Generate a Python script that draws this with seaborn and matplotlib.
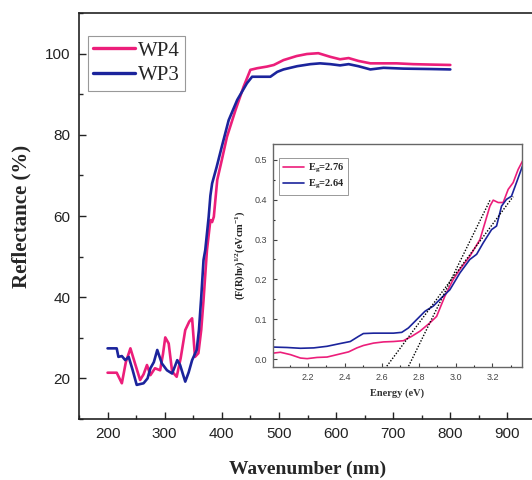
import numpy as np
import pandas as pd
import matplotlib
matplotlib.use("Agg")
import matplotlib.pyplot as plt
from matplotlib.ticker import MultipleLocator
import seaborn as sns

# ---------------- data ----------------
wp4_nm = [200, 216, 225, 232, 240, 248, 257, 263, 269, 275, 283, 292, 297, 301, 307, 313, 321,
          328, 336, 343, 348, 353, 359, 364, 368, 374, 380, 383, 386, 392, 400, 409, 424, 438,
          450, 462, 479, 491, 508, 531, 549, 569, 590, 607, 622, 639, 660, 683, 706, 735, 765, 800]
wp4_r = [21.4, 21.4, 18.8, 24.0, 27.4, 23.7, 19.6, 21.0, 23.3, 20.8, 22.5, 22.0, 26.0, 30.1, 28.6,
         21.7, 20.4, 25.0, 31.9, 34.0, 34.8, 25.3, 26.2, 32.0, 39.3, 51.6, 59.0, 58.5, 59.8, 68.9,
         73.8, 79.5, 86.1, 91.8, 96.0, 96.4, 96.8, 97.2, 98.4, 99.4, 99.9, 100.1, 99.2, 98.6, 98.9,
         98.2, 97.6, 97.6, 97.6, 97.4, 97.3, 97.2]

wp3_nm = [200, 216, 219, 225, 231, 237, 244, 251, 263, 270, 275, 281, 287, 295, 304, 313, 318,
          322, 327, 332, 336, 342, 348, 356, 360, 364, 368, 371, 377, 380, 383, 391, 400, 412,
          427, 444, 453, 473, 485, 497, 508, 532, 555, 572, 590, 607, 622, 639, 660, 683, 718,
          765, 800]
wp3_r = [27.4, 27.4, 25.3, 25.5, 24.5, 25.3, 22.0, 18.4, 18.8, 20.0, 22.5, 24.0, 27.0, 23.7, 22.0,
         21.2, 23.0, 24.5, 23.3, 21.0, 19.2, 21.5, 24.5, 27.0, 32.0, 40.1, 49.2, 51.6, 59.8, 65.0,
         68.0, 72.1, 77.1, 83.6, 88.6, 92.7, 94.3, 94.3, 94.3, 95.5, 96.1, 96.9, 97.4, 97.6, 97.4,
         97.1, 97.4, 96.9, 96.1, 96.5, 96.3, 96.2, 96.1]

series_names = ["WP4", "WP3"]
series_colors = ["#EC1E7A", "#1B249C"]

# inset: Tauc plot
wp4_e = [2.014, 2.05, 2.105, 2.159, 2.195, 2.249, 2.303, 2.357, 2.42, 2.465, 2.5, 2.555, 2.609,
         2.663, 2.717, 2.762, 2.807, 2.861, 2.897, 2.942, 2.987, 3.023, 3.077, 3.132, 3.186,
         3.204, 3.231, 3.258, 3.285, 3.312, 3.339, 3.366]
wp4_f = [0.015, 0.017, 0.011, 0.0025, 0.001, 0.004, 0.005, 0.011, 0.018, 0.028, 0.034, 0.040,
         0.043, 0.044, 0.046, 0.057, 0.070, 0.091, 0.107, 0.158, 0.200, 0.225, 0.258, 0.300,
         0.384, 0.399, 0.393, 0.393, 0.426, 0.443, 0.476, 0.500]
wp3_e = [2.014, 2.086, 2.159, 2.231, 2.303, 2.375, 2.429, 2.474, 2.5, 2.555, 2.609, 2.663, 2.708,
         2.744, 2.789, 2.834, 2.879, 2.924, 2.969, 3.023, 3.077, 3.114, 3.15, 3.195, 3.222,
         3.249, 3.276, 3.303, 3.33, 3.366]
wp3_f = [0.030, 0.029, 0.027, 0.028, 0.032, 0.039, 0.044, 0.057, 0.064, 0.065, 0.065, 0.065,
         0.067, 0.078, 0.099, 0.120, 0.133, 0.154, 0.174, 0.216, 0.250, 0.263, 0.292, 0.325,
         0.334, 0.384, 0.401, 0.409, 0.443, 0.489]
inset_labels = [r"E$_{\rm g}$=2.76", r"E$_{\rm g}$=2.64"]

# tangent (fit) lines
fit4_e = [2.745, 3.19]
fit4_f = [-0.018, 0.402]
fit3_e = [2.627, 3.312]
fit3_f = [-0.018, 0.408]

# ---------------- style ----------------
sns.set_theme(style="ticks")
plt.rcParams["font.family"] = ["Liberation Sans", "DejaVu Sans"]
plt.rcParams["mathtext.fontset"] = "custom"
plt.rcParams["mathtext.rm"] = "Liberation Serif:bold"
plt.rcParams["mathtext.bf"] = "Liberation Serif:bold"
plt.rcParams["mathtext.it"] = "Liberation Serif:bold:italic"

fig = plt.figure(figsize=(5.32, 4.8), dpi=100)
ax = fig.add_axes([79 / 532, (480 - 419) / 480, (536 - 79) / 532, (419 - 13) / 480])

df = pd.concat([
    pd.DataFrame({"nm": wp4_nm, "R": wp4_r, "s": series_names[0]}),
    pd.DataFrame({"nm": wp3_nm, "R": wp3_r, "s": series_names[1]}),
])
sns.lineplot(data=df, x="nm", y="R", hue="s", palette=dict(zip(series_names, series_colors)),
             linewidth=1.9, ax=ax, sort=False, estimator=None, legend=False)
for name, col in zip(series_names, series_colors):
    ax.plot([], [], color=col, lw=2.4, label=name)

ax.set_xlim(150, 950)
ax.set_ylim(10, 110)
ax.xaxis.set_major_locator(MultipleLocator(100))
ax.xaxis.set_minor_locator(MultipleLocator(50))
ax.yaxis.set_major_locator(MultipleLocator(20))
ax.yaxis.set_minor_locator(MultipleLocator(10))
ax.set_yticks([20, 40, 60, 80, 100])
ax.set_xticks([200, 300, 400, 500, 600, 700, 800, 900])
ax.tick_params(which="major", direction="in", length=5, width=1.0, labelsize=11,
               colors="#222222", top=False, right=False, pad=6)
ax.tick_params(which="minor", direction="in", length=3, width=1.0, top=False, right=False)
for sp in ax.spines.values():
    sp.set_linewidth(1.2)
    sp.set_color("#222222")
ax.set_xlabel("Wavenumber (nm)", family="Liberation Serif", weight="bold", fontsize=14,
              labelpad=14)
ax.set_ylabel("Reflectance (%)", family="Liberation Serif", weight="bold", fontsize=15,
              labelpad=10)
leg = ax.legend(loc="upper left", bbox_to_anchor=(0.0197, 0.944), borderaxespad=0,
                prop={"family": "Liberation Serif", "size": 15}, frameon=True, fancybox=False,
                edgecolor="#999999", framealpha=1, handlelength=2.0, handletextpad=0.15,
                labelspacing=0.25, borderpad=0.25)
leg.get_frame().set_linewidth(0.8)

# ---------------- inset ----------------
axi = fig.add_axes([273 / 532, (480 - 367) / 480, 249 / 532, 223 / 480])
dfi = pd.concat([
    pd.DataFrame({"E": wp4_e, "F": wp4_f, "s": inset_labels[0]}),
    pd.DataFrame({"E": wp3_e, "F": wp3_f, "s": inset_labels[1]}),
])
sns.lineplot(data=dfi, x="E", y="F", hue="s", palette=dict(zip(inset_labels, series_colors)),
             linewidth=1.2, ax=axi, sort=False, estimator=None, legend=False)
for name, col in zip(inset_labels, series_colors):
    axi.plot([], [], color=col, lw=1.2, label=name)
axi.plot(fit4_e, fit4_f, color="black", lw=1.0, ls=(0, (1, 1.2)))
axi.plot(fit3_e, fit3_f, color="black", lw=1.0, ls=(0, (1, 1.2)))

axi.set_xlim(2.01, 3.36)
axi.set_ylim(-0.02, 0.54)
axi.set_xticks([2.2, 2.4, 2.6, 2.8, 3.0, 3.2])
axi.set_yticks([0.0, 0.1, 0.2, 0.3, 0.4, 0.5])
axi.xaxis.set_minor_locator(MultipleLocator(0.1))
axi.yaxis.set_minor_locator(MultipleLocator(0.05))
axi.tick_params(which="major", direction="in", length=3, width=0.8, labelsize=6.5,
                colors="#444444", pad=4)
axi.tick_params(which="minor", direction="in", length=1.6, width=0.8)
for sp in axi.spines.values():
    sp.set_linewidth(1.0)
    sp.set_color("#666666")
axi.set_xlabel("Energy (eV)", family="Liberation Serif", weight="bold", fontsize=7.5,
               labelpad=5, color="#333333")
axi.set_ylabel(r"(F(R)h$\nu$)$^{1/2}$(eVcm$^{-1}$)", family="Liberation Serif", weight="bold",
               fontsize=7.5, labelpad=6, color="#222222")
legi = axi.legend(loc="upper left", bbox_to_anchor=(0.024, 0.937), borderaxespad=0,
                  prop={"family": "Liberation Serif", "weight": "bold", "size": 7.5},
                  frameon=True, fancybox=False, edgecolor="#999999", framealpha=1,
                  handlelength=2.1, handletextpad=0.3, labelspacing=0.3, borderpad=0.35)
legi.get_frame().set_linewidth(0.7)

fig.savefig("out.png", dpi=100)
